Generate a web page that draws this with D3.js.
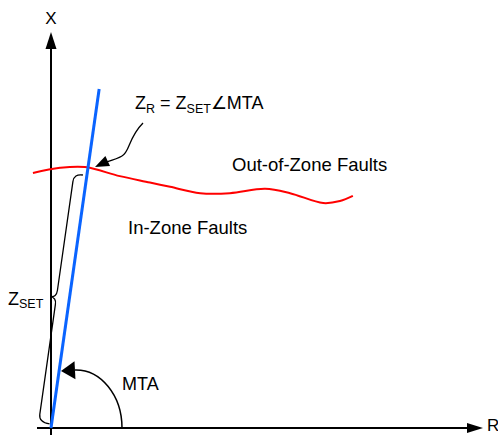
<!DOCTYPE html>
<html><head><meta charset="utf-8">
<script src="https://cdn.jsdelivr.net/npm/d3@7"></script>
<style>body{margin:0;background:#fff}svg{display:block}text{font-family:"Liberation Sans",Arial,sans-serif;fill:#000}</style>
</head><body>
<svg id="c" width="498" height="435"></svg>
<script>
// Data (chart units: R horizontal, X vertical)
const redCurveR = [-0.42,0.21,0.79,1.60,2.30,2.77,3.47,4.16,4.98,5.56,6.33,6.72,7.02];
const redCurveX = [6.44,6.57,6.59,6.36,6.20,6.09,5.93,5.93,6.04,5.93,5.68,5.73,5.86];
const zLineR = [0, 1.12];
const zLineX = [0, 8.56];
const axisLabels = ["X","R"];
const regionLabels = ["Out-of-Zone Faults","In-Zone Faults"];

const svg = d3.select("#c");
const x = d3.scaleLinear().domain([0,10]).range([51,481]);
const y = d3.scaleLinear().domain([0,10]).range([428,32]);

function arrowHead(tip, from, len, wid){
  const dx=tip[0]-from[0], dy=tip[1]-from[1], L=Math.hypot(dx,dy);
  const ux=dx/L, uy=dy/L, bx=tip[0]-ux*len, by=tip[1]-uy*len;
  return `M${tip[0]},${tip[1]}L${bx-uy*wid/2},${by+ux*wid/2}L${bx+uy*wid/2},${by-ux*wid/2}Z`;
}

// axes
const x0=x(0), y0=y(0);
svg.append("line").attr("x1",x0).attr("y1",436).attr("x2",x0).attr("y2",48).attr("stroke","#000").attr("stroke-width",2);
svg.append("path").attr("d",arrowHead([x0,32],[x0,100],17,11)).attr("fill","#000");
svg.append("line").attr("x1",37).attr("y1",y0).attr("x2",468).attr("y2",y0).attr("stroke","#000").attr("stroke-width",2);
svg.append("path").attr("d",arrowHead([483,y0],[400,y0],16,10)).attr("fill","#000");
svg.append("text").attr("x",x0).attr("y",24).attr("text-anchor","middle").attr("font-size",17).text(axisLabels[0]);
svg.append("text").attr("x",487).attr("y",431).attr("font-size",17).text(axisLabels[1]);

// red curve
const pts = redCurveR.map((r,i)=>[x(r), y(redCurveX[i])]);
svg.append("path").attr("d",d3.line().curve(d3.curveCatmullRom.alpha(0.5))(pts))
  .attr("fill","none").attr("stroke","#ff0000").attr("stroke-width",2);

// brace (parallel to Z line)
const bx1=x(zLineR[1]), by1=y(zLineX[1]);
const Lz=Math.hypot(bx1-x0,by1-y0);
const u=[(bx1-x0)/Lz,(by1-y0)/Lz], n=[u[1],-u[0]];
const nn = n[0]>0?[-n[0],-n[1]]:n;
const P=(s,d)=>`${(x0+s*u[0]+d*nn[0]).toFixed(1)},${(y0+s*u[1]+d*nn[1]).toFixed(1)}`;
const s1=255, s0=4, sm=130;
const bd = `M${P(s1,4)}Q${P(s1,13)} ${P(s1-8,13)}L${P(sm+7,13)}Q${P(sm,13)} ${P(sm,19)}Q${P(sm,13)} ${P(sm-7,13)}L${P(s0+8,13)}Q${P(s0,13)} ${P(s0,2)}`;
svg.append("path").attr("d",bd).attr("fill","none").attr("stroke","#000").attr("stroke-width",1.3);

// Z line (blue)
svg.append("line").attr("x1",x(zLineR[0])).attr("y1",y(zLineX[0])).attr("x2",bx1).attr("y2",by1)
  .attr("stroke","#0a64ff").attr("stroke-width",3);

// MTA arc
svg.append("path").attr("d",`M122,${y0} A46,58 0 0,0 75,370`).attr("fill","none").attr("stroke","#000").attr("stroke-width",1.5);
svg.append("path").attr("d",arrowHead([61,371],[80,370],14,18)).attr("fill","#000");
svg.append("text").attr("x",122).attr("y",390).attr("font-size",18).text("MTA");

// callout arrow
svg.append("path").attr("d","M143,123 C128,138 130,152 122,156 C117,159 113,160 106,162").attr("fill","none").attr("stroke","#000").attr("stroke-width",1.3);
svg.append("path").attr("d",arrowHead([95,167],[110,160],14,11)).attr("fill","#000");

// labels
const zr = svg.append("text").attr("x",135).attr("y",109).attr("font-size",18);
zr.append("tspan").text("Z");
zr.append("tspan").attr("font-size",12.5).attr("dy",4).text("R");
zr.append("tspan").attr("dy",-4).text(" = Z");
zr.append("tspan").attr("font-size",12.5).attr("dy",4).text("SET");
zr.append("tspan").attr("dy",-4).text("\u2220MTA");

const zs = svg.append("text").attr("x",8).attr("y",305).attr("font-size",18);
zs.append("tspan").text("Z");
zs.append("tspan").attr("font-size",12.5).attr("dy",3).text("SET");

svg.append("text").attr("x",232).attr("y",171).attr("font-size",18.5).text(regionLabels[0]);
svg.append("text").attr("x",128).attr("y",234).attr("font-size",18.5).text(regionLabels[1]);
</script>
</body></html>
